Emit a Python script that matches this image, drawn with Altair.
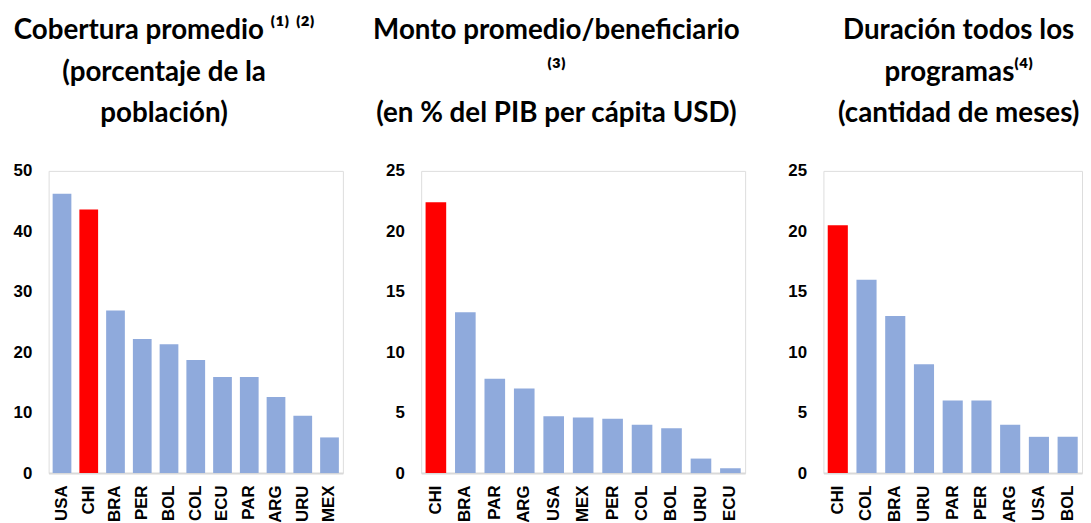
import altair as alt
import pandas as pd

# Panel 1: Cobertura promedio (% de la población)
cob_paises = ["USA", "CHI", "BRA", "PER", "BOL", "COL", "ECU", "PAR", "ARG", "URU", "MEX"]
cob_vals = [46.2, 43.6, 26.9, 22.2, 21.3, 18.7, 15.9, 15.9, 12.6, 9.5, 5.9]

# Panel 2: Monto promedio/beneficiario (% PIB per cápita)
monto_paises = ["CHI", "BRA", "PAR", "ARG", "USA", "MEX", "PER", "COL", "BOL", "URU", "ECU"]
monto_vals = [22.4, 13.3, 7.8, 7.0, 4.7, 4.6, 4.5, 4.0, 3.7, 1.2, 0.4]

# Panel 3: Duración todos los programas (meses)
dur_paises = ["CHI", "COL", "BRA", "URU", "PAR", "PER", "ARG", "USA", "BOL"]
dur_vals = [20.5, 16, 13, 9, 6, 6, 4, 3, 3]

titles = [
    ["Cobertura promedio ⁽¹⁾ ⁽²⁾", "(porcentaje de la", "población)"],
    ["Monto promedio/beneficiario", "⁽³⁾", "(en % del PIB per cápita USD)"],
    ["Duración todos los", "programas⁽⁴⁾", "(cantidad de meses)"],
]

BLUE = "#8FAADC"
RED = "#FF0000"


def panel(paises, vals, title, ymax, step, width, dx):
    df = pd.DataFrame({"pais": paises, "valor": vals})
    df["grupo"] = ["Chile" if p == "CHI" else "Otro" for p in paises]
    return (
        alt.Chart(df)
        .mark_bar()
        .encode(
            x=alt.X(
                "pais:N",
                sort=paises,
                scale=alt.Scale(paddingInner=0.3, paddingOuter=0.15),
                axis=alt.Axis(
                    title=None,
                    labelAngle=-90,
                    labelFont="Liberation Sans",
                    labelFontSize=17,
                    labelFontWeight="bold",
                    labelColor="black",
                    labelPadding=12,
                    ticks=False,
                    grid=False,
                    domainColor="#D9D9D9",
                    domainWidth=2,
                    domainCap="butt",
                ),
            ),
            y=alt.Y(
                "valor:Q",
                scale=alt.Scale(domain=[0, ymax], nice=False),
                axis=alt.Axis(
                    title=None,
                    values=list(range(0, ymax + 1, step)),
                    labelFont="Liberation Sans",
                    labelFontSize=17,
                    labelFontWeight="bold",
                    labelColor="black",
                    labelPadding=17,
                    labelFlush=False,
                    ticks=False,
                    domain=False,
                    grid=False,
                ),
            ),
            color=alt.Color(
                "grupo:N",
                scale=alt.Scale(domain=["Chile", "Otro"], range=[RED, BLUE]),
                legend=None,
            ),
        )
        .properties(
            width=width,
            height=305,
            title=alt.TitleParams(
                text=title,
                font="Lato",
                fontSize=28,
                fontWeight="bold",
                color="black",
                lineHeight=42,
                anchor="middle",
                dx=dx,
                offset=34,
            ),
        )
    )


p1 = panel(cob_paises, cob_vals, titles[0], 50, 10, 297, -32)
p2 = panel(monto_paises, monto_vals, titles[1], 25, 5, 327, -27)
p3 = panel(dur_paises, dur_vals, titles[2], 25, 5, 261, 6)

chart = (
    alt.hconcat(p1, p2, p3, spacing=79, bounds="flush")
    .properties(padding={"left": 4, "top": 6, "right": 0, "bottom": 0})
    .configure_view(stroke=None, strokeWidth=0, fill="white", fillOpacity=0)
    .configure_axis(grid=False, domain=False)
    .configure_axisX(domain=True)
    .configure(background="white")
)

chart.save("out.html", embed_options={"renderer": "svg", "actions": False})
